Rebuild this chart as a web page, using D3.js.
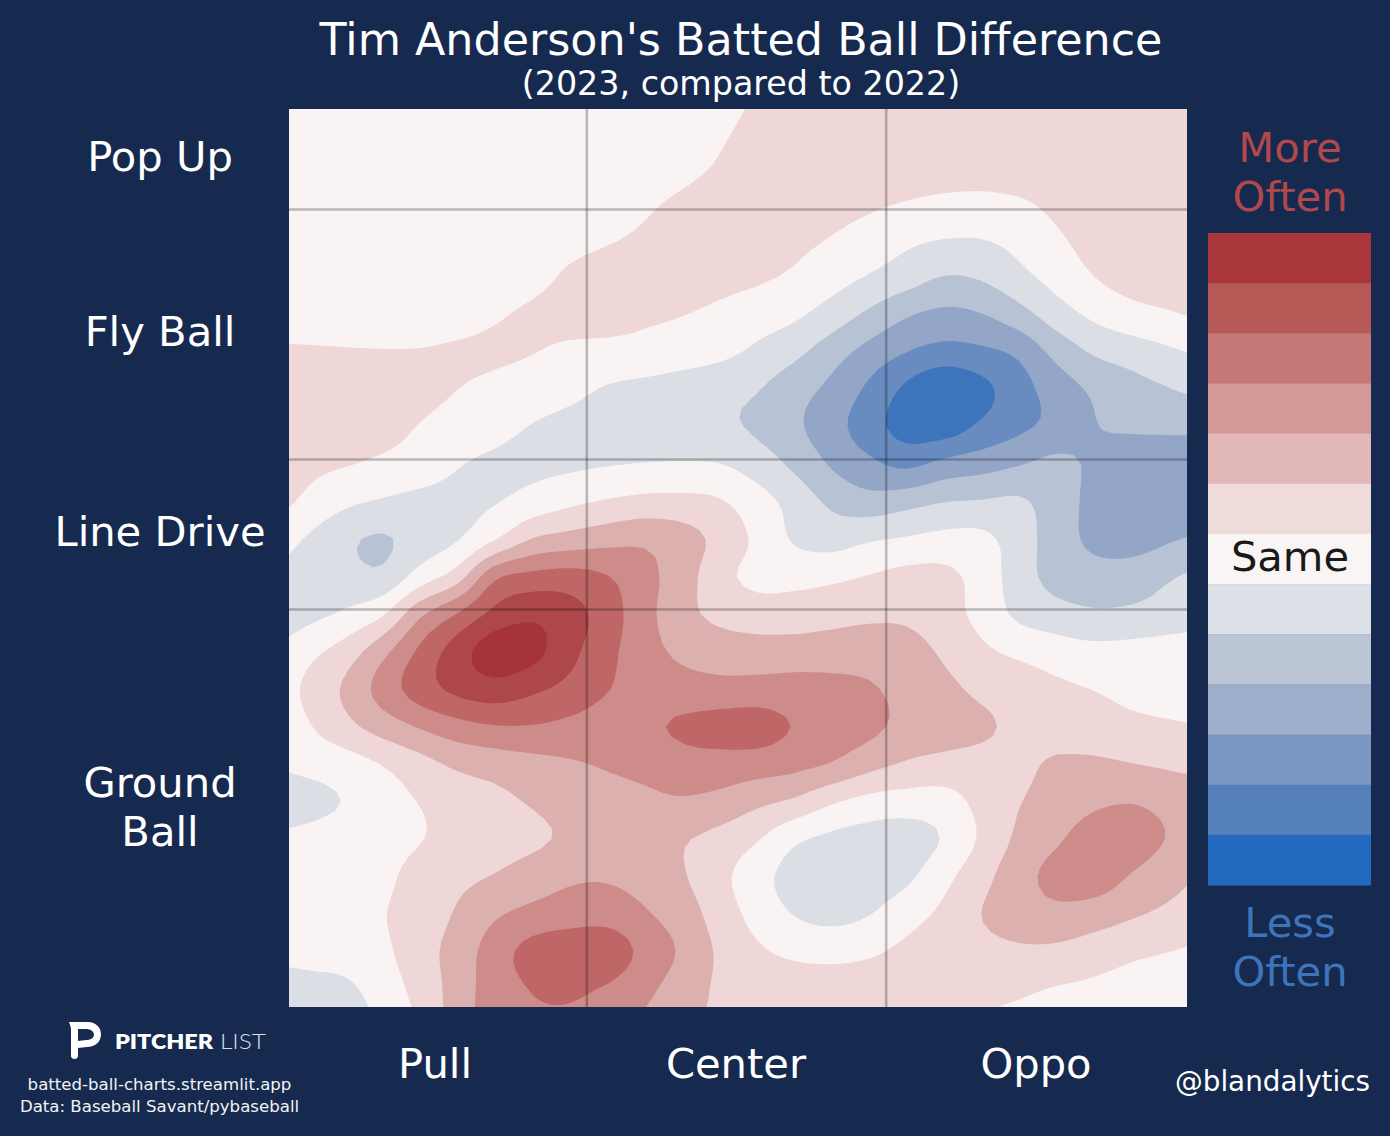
<!DOCTYPE html>
<html><head><meta charset="utf-8">
<script src="https://cdn.jsdelivr.net/npm/d3@7"></script>
<style>html,body{margin:0;padding:0;background:#162a50}svg{display:block}text{font-family:"DejaVu Sans",sans-serif}</style>
</head><body><svg id="c" width="1390" height="1136"></svg>
<script>
// Difference in batted-ball frequency, in colour-band units; rows = launch angle high to low, columns = pull to oppo
const diffGrid = [
[0,0,0,0,0,0,0,0,0,.1,.2,.4,.65,.85,1,1,1,1,1,1,1,1,1,1],
[0,0,0,0,0,0,0,0,.05,.15,.3,.55,.8,1,1,1,1,1,1,1,1,1,1,1],
[0,0,0,0,0,0,0,.1,.2,.4,.6,.8,.9,.9,.8,.65,.47,.3,.25,.4,.7,.9,1,1],
[0,0,0,0,0,0,.1,.3,.45,.6,.75,.85,.85,.7,.45,.1,-.3,-.52,-.52,-.2,.35,.8,1,1],
[0,0,0,0,0,.1,.3,.6,.75,.85,.85,.75,.62,.36,-.1,-.58,-1.05,-1.55,-1.4,-.8,-.15,.48,.85,.95],
[0,0,0,.05,.2,.43,.6,.72,.72,.62,.52,.3,0,-.33,-.95,-1.7,-2.4,-2.75,-2.55,-1.9,-1,-.3,.15,.4],
[.62,.58,.55,.55,.6,.6,.52,.35,.28,.2,0,-.25,-.7,-1.25,-2.05,-2.85,-3.5,-3.85,-3.7,-3.3,-2.2,-1.4,-1.05,-.68],
[1,1,.9,.75,.5,.3,.1,-.2,-.6,-.8,-1,-1.2,-1.45,-2.1,-2.75,-3.7,-4.7,-5.4,-4.8,-3.9,-3.05,-2.35,-1.9,-1.55],
[1,1,.85,.45,.1,-.2,-.55,-.8,-1,-1.1,-1.15,-1.3,-1.65,-2.3,-3.1,-4.05,-4.9,-5,-4.3,-3.7,-3.2,-2.55,-2.4,-2.35],
[.7,.55,.3,0,-.45,-.65,-.7,-.65,-.55,-.45,-.42,-.47,-.95,-1.7,-2.6,-3.25,-3.7,-3.2,-2.9,-2.55,-2.25,-2.65,-2.9,-2.95],
[.3,-.3,-.6,-.75,-.7,-.55,-.1,.3,.6,.8,.8,.6,-.08,-.85,-1.7,-2.1,-1.85,-1.52,-1.42,-1.35,-2,-2.75,-3,-3],
[-.6,-1.3,-1.6,-1.05,-.55,.45,1.55,1.9,2.15,2.3,1.95,1.2,.3,-.6,-.9,-.6,-.4,-.2,-.25,-1,-2,-2.7,-2.9,-2.6],
[-.9,-1.15,-1.25,-.05,1.05,3.3,3.8,3.9,3.55,2.8,2,.85,.25,.2,.3,.55,.8,.75,.1,-1,-1.85,-2.1,-2,-1.6],
[-.75,-.35,.4,2.3,3.55,4.8,5.3,4.9,4,2.85,1.85,1.25,1,1,1.15,1.3,1.3,.9,.2,-.7,-1.1,-1.35,-1.3,-1.1],
[.2,.95,2.2,3.7,5,6.05,5.8,4.8,3.8,2.9,2.3,2.05,1.95,1.95,2,2.05,1.9,1.35,.7,.3,0,-.2,-.15,-.05],
[.7,1.65,2.9,4,4.75,5.1,4.7,4.2,3.55,3.1,2.9,2.8,2.85,2.9,2.8,2.6,2.2,1.75,1.3,1.05,.7,.48,.3,.2],
[.4,1.2,1.95,2.6,3.15,3.45,3.45,3.25,3.05,3.3,3.65,3.9,3.95,3.45,3.05,2.75,2.2,1.95,1.65,1.3,1.05,.85,.7,.6],
[-.2,.05,.55,1.15,1.7,1.95,2.2,2.4,2.6,2.8,3.1,3.1,3,2.8,2.45,1.85,1.4,1.2,1.2,1.3,1.62,1.68,1.52,1.35],
[-.85,-.45,.05,.55,.95,1.25,1.6,1.95,2.15,2.3,2.4,2.2,1.75,1.35,.65,.2,.05,.1,.8,1.45,1.85,2.3,2.45,2.2],
[-.2,-.05,.05,.45,.85,1.05,1.3,1.7,2.1,2,1.6,1.2,.6,-.3,-.7,-.9,-.95,-.42,.65,1.7,2.35,2.95,2.95,2.45],
[0,0,.25,.9,1.25,1.55,2,2.35,2.4,2.15,1.6,.8,-.1,-.85,-1,-1.05,-.7,.2,1.15,2.1,2.8,3,2.45,1.9],
[0,.1,.45,.95,1.6,2.35,2.75,2.95,3.05,2.6,2,1.05,.15,-.55,-.8,-.55,.1,.7,1.5,2,2.25,2.05,1.65,1.3],
[-.18,-.08,.3,1.1,1.9,3,3.85,4.2,4.15,3.2,2.35,1.35,.65,.3,.2,.35,.7,1,1.2,1.35,1.3,1,.7,.52],
[-.85,-.7,0,.85,1.95,3,3.55,3.7,3.4,2.75,2.05,1.35,1.05,1,1,1,1,.95,.8,.7,.45,.3,.15,.05]
];
const bandLevels = [-5,-4,-3,-2,-1,0,1,2,3,4,5,6];
const bandColors = ["#3d74bc","#698cc0","#93a6c8","#b7c2d5","#dbdee5","#f9f4f3","#eed7d6","#ddb0b0","#cd8c8a","#bf6766","#ae4749","#a63339"];
const legendColors = ["#a8363b","#b75a57","#c67876","#d49997","#e1b8b7","#f0dbdb","#f9f5f4","#dce0e7","#bcc5d6","#9daeca","#7b97c2","#5680bc","#2369bf"];
const sprayLines = [-15,15];
const angleLines = [50,25,10];
const rowLabels = [["Pop Up",171],["Fly Ball",346],["Line Drive",546],["Ground",797],["Ball",846]];
const columnLabels = [["Pull",435],["Center",736],["Oppo",1036]];

const svg = d3.select("#c");
svg.append("rect").attr("width",1390).attr("height",1136).attr("fill","#162a50");

const L=289,R=1187,T=109,B=1007;
const xAngle = d3.scaleLinear([-44.8,45.2],[L+.5,R+.5]);
const yAngle = d3.scaleLinear([60,-30],[T+.5,T+900.5]);

const nr=diffGrid.length,nc=diffGrid[0].length;
const cell=(r,c)=>{
  const rr=Math.max(0,Math.min(nr-1,r)),cc=Math.max(0,Math.min(nc-1,c));
  let v=diffGrid[rr][cc];
  if(r<0) v+=(diffGrid[0][cc]-diffGrid[1][cc])*(-r);
  if(r>=nr) v+=(diffGrid[nr-1][cc]-diffGrid[nr-2][cc])*(r-nr+1);
  if(c<0) v+=(diffGrid[rr][0]-diffGrid[rr][1])*(-c);
  if(c>=nc) v+=(diffGrid[rr][nc-1]-diffGrid[rr][nc-2])*(c-nc+1);
  return v;
};
const cr=(a,b,c,d,t)=>b+.5*t*(c-a+t*(2*a-5*b+4*c-d+t*(3*(b-c)+d-a)));
const F=4, mr=(nr+1)*F+1, mc=(nc+1)*F+1;
const flat=new Array(mr*mc);
for(let j=0;j<mr;j++){
  const Y=-1+j/F, y0=Math.floor(Y), ty=Y-y0;
  for(let i=0;i<mc;i++){
    const X=-1+i/F, x0=Math.floor(X), tx=X-x0;
    const col=[-1,0,1,2].map(dy=>cr(cell(y0+dy,x0-1),cell(y0+dy,x0),cell(y0+dy,x0+1),cell(y0+dy,x0+2),tx));
    flat[j*mc+i]=cr(col[0],col[1],col[2],col[3],ty);
  }
}
const cw=(R-L)/nc, ch=(B-T)/nr;
const cx=d3.scaleLinear([.5,mc-.5],[L-.5*cw,L+(nc+.5)*cw]);
const cy=d3.scaleLinear([.5,mr-.5],[T-.5*ch,T+(nr+.5)*ch]);
const contours=d3.contours().size([mc,mr]).smooth(true).thresholds(bandLevels.slice(0,-1).map(l=>l+.5));

svg.append("clipPath").attr("id","plot").append("rect").attr("x",L).attr("y",T).attr("width",R-L).attr("height",B-T);
const g=svg.append("g").attr("clip-path","url(#plot)");
g.append("rect").attr("x",L).attr("y",T).attr("width",R-L).attr("height",B-T).attr("fill",bandColors[0]);
const line=d3.line().x(d=>cx(d[0])).y(d=>cy(d[1]));
contours(flat).forEach((ct,i)=>{
  let d="";
  ct.coordinates.forEach(poly=>poly.forEach(ring=>{d+=line(ring.slice(0,-1))+"Z";}));
  g.append("path").attr("d",d).attr("fill",bandColors[i+1]).attr("fill-rule","evenodd");
});

g.selectAll("line.v").data(sprayLines).join("line").attr("class","v").attr("x1",d=>xAngle(d)).attr("x2",d=>xAngle(d)).attr("y1",T).attr("y2",B)
  .attr("stroke","#000").attr("stroke-opacity",.25).attr("stroke-width",2.6);
g.selectAll("line.h").data(angleLines).join("line").attr("class","h").attr("y1",d=>yAngle(d)).attr("y2",d=>yAngle(d)).attr("x1",L).attr("x2",R)
  .attr("stroke","#000").attr("stroke-opacity",.25).attr("stroke-width",2.6);

const T_=(x,y,s,size,fill,anchor="middle")=>svg.append("text").attr("x",x).attr("y",y).attr("font-size",size).attr("fill",fill).attr("text-anchor",anchor).text(s);
T_(741,55,"Tim Anderson's Batted Ball Difference",44.4,"#fff");
T_(741,94.5,"(2023, compared to 2022)",33.3,"#fff");
rowLabels.forEach(d=>T_(160,d[1],d[0],41.67,"#fff"));
columnLabels.forEach(d=>T_(d[1],1078,d[0],41.67,"#fff"));

// legend
const yLeg=d3.scaleBand().domain(d3.range(legendColors.length)).range([233,885]);
svg.selectAll("rect.leg").data(legendColors).join("rect").attr("class","leg").attr("x",1208).attr("width",163)
  .attr("y",(d,i)=>yLeg(i)).attr("height",yLeg.bandwidth()+.5).attr("fill",d=>d);
T_(1290,162,"More",41.67,"#b0484c");T_(1290,211,"Often",41.67,"#b0484c");
T_(1290,571,"Same",41.67,"#1a1a1a");
T_(1290,937,"Less",41.67,"#3d74bc");T_(1290,986,"Often",41.67,"#3d74bc");

T_(1370,1091,"@blandalytics",27.8,"#fff","end");
T_(159.5,1090,"batted-ball-charts.streamlit.app",16.6,"#f2f2f2");
T_(159.5,1112,"Data: Baseball Savant/pybaseball",16.6,"#f2f2f2");

// logo
svg.append("path").attr("fill","#fff").attr("fill-rule","evenodd").attr("d","M69 1022 L88 1022 C96 1022 101 1028 101 1034 C101 1042 95 1047 87 1047 L78 1048 L78 1056 C78 1060 71 1060 71 1056 L71 1030 C71 1027 70 1025 69 1022 Z M78 1029 L78 1041 L86 1040 C90 1040 94 1038 94 1035 C94 1031 90 1029 86 1029 Z");
svg.append("text").attr("x",115).attr("y",1049).attr("font-size",21).attr("font-weight",800).attr("fill","#fff").attr("textLength",98).attr("lengthAdjust","spacingAndGlyphs").style("font-family","Lato").text("PITCHER");
svg.append("text").attr("x",220).attr("y",1049).attr("font-size",21).attr("font-weight",300).attr("fill","#d8dce4").attr("textLength",46).attr("lengthAdjust","spacingAndGlyphs").style("font-family","Lato").text("LIST");
</script></body></html>
